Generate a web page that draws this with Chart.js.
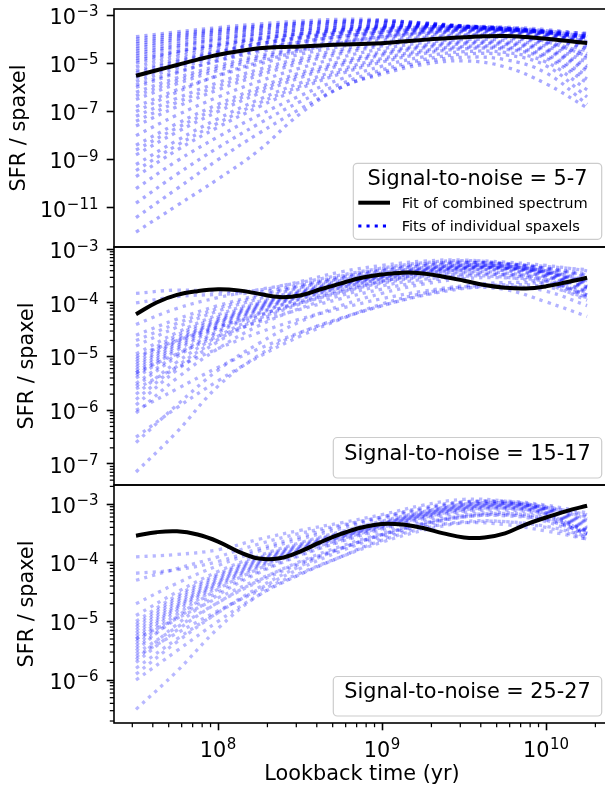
<!DOCTYPE html>
<html><head><meta charset="utf-8">
<script src="https://cdn.jsdelivr.net/npm/chart.js@4.4.1/dist/chart.umd.min.js"></script>
<style>
html,body{margin:0;padding:0;background:#fff;overflow:hidden;width:605px;height:796px;}
#wrap{position:relative;width:620px;height:796px;}
canvas{position:absolute;left:0;top:0;}
</style></head><body>
<div id="wrap">
<canvas id="c1" width="620" height="796"></canvas>
<canvas id="c2" width="620" height="796"></canvas>
<canvas id="c3" width="620" height="796"></canvas>
</div>
<script>
// ---------------- DATA (SFR stored as log10) ----------------
const spaxelTimes = [3.16e7, 5.62e7, 1.0e8, 1.78e8, 3.16e8, 5.62e8, 1.0e9, 1.78e9, 3.16e9, 5.62e9, 1.0e10, 1.78e10];
const fitTimes = [3.16e7, 4.22e7, 5.62e7, 7.5e7, 1.0e8, 1.33e8, 1.78e8, 2.37e8, 3.16e8, 4.22e8, 5.62e8, 7.5e8,
                  1.0e9, 1.33e9, 1.78e9, 2.37e9, 3.16e9, 4.22e9, 5.62e9, 7.5e9, 1.0e10, 1.33e10, 1.78e10];

const fitSN5to7Log10 = [-5.52, -5.29, -5.07, -4.85, -4.65, -4.50, -4.38, -4.33, -4.30, -4.26, -4.22, -4.20,
                        -4.17, -4.10, -4.03, -3.97, -3.92, -3.88, -3.87, -3.91, -3.98, -4.07, -4.16];
const fitSN15to17Log10 = [-4.21, -3.99, -3.85, -3.78, -3.745, -3.765, -3.83, -3.89, -3.86, -3.745, -3.635, -3.53,
                          -3.47, -3.435, -3.45, -3.51, -3.585, -3.665, -3.715, -3.73, -3.69, -3.615, -3.53];
const fitSN25to27Log10 = [-3.54, -3.48, -3.465, -3.52, -3.64, -3.81, -3.93, -3.925, -3.81, -3.65, -3.51, -3.40,
                          -3.34, -3.35, -3.41, -3.50, -3.57, -3.57, -3.50, -3.35, -3.23, -3.12, -3.03];

const spaxelsSN5to7Log10 = [
 [-3.90,-3.70,-3.52,-3.37,-3.25,-3.18,-3.20,-3.35,-3.50,-3.62,-3.68,-3.75],
 [-4.00,-3.78,-3.60,-3.45,-3.33,-3.25,-3.24,-3.32,-3.45,-3.57,-3.66,-3.78],
 [-4.10,-3.85,-3.65,-3.48,-3.35,-3.27,-3.25,-3.33,-3.48,-3.62,-3.72,-3.85],
 [-4.20,-3.92,-3.70,-3.53,-3.40,-3.32,-3.30,-3.36,-3.46,-3.58,-3.70,-3.88],
 [-4.30,-4.00,-3.78,-3.60,-3.46,-3.37,-3.33,-3.37,-3.47,-3.60,-3.75,-3.95],
 [-4.40,-4.08,-3.84,-3.65,-3.51,-3.42,-3.38,-3.40,-3.47,-3.58,-3.72,-3.92],
 [-4.50,-4.20,-3.95,-3.75,-3.60,-3.50,-3.44,-3.43,-3.48,-3.58,-3.72,-3.90],
 [-4.60,-4.28,-4.00,-3.78,-3.62,-3.51,-3.45,-3.44,-3.48,-3.56,-3.68,-3.88],
 [-4.70,-4.35,-4.07,-3.85,-3.68,-3.56,-3.48,-3.45,-3.47,-3.55,-3.70,-3.95],
 [-4.80,-4.50,-4.22,-3.98,-3.78,-3.62,-3.52,-3.47,-3.46,-3.50,-3.60,-3.80],
 [-4.90,-4.52,-4.20,-3.95,-3.76,-3.62,-3.53,-3.49,-3.49,-3.54,-3.66,-3.90],
 [-5.00,-4.60,-4.27,-4.00,-3.80,-3.65,-3.55,-3.50,-3.50,-3.56,-3.70,-3.95],
 [-5.15,-4.72,-4.36,-4.08,-3.86,-3.70,-3.59,-3.53,-3.52,-3.57,-3.72,-4.00],
 [-5.30,-4.85,-4.48,-4.18,-3.95,-3.78,-3.65,-3.57,-3.55,-3.60,-3.75,-4.05],
 [-5.40,-4.92,-4.52,-4.20,-3.96,-3.78,-3.65,-3.57,-3.54,-3.59,-3.75,-4.08],
 [-5.50,-5.00,-4.55,-4.20,-3.92,-3.72,-3.58,-3.50,-3.47,-3.52,-3.65,-3.90],
 [-5.60,-5.10,-4.68,-4.33,-4.07,-3.87,-3.72,-3.62,-3.58,-3.63,-3.80,-4.15],
 [-5.75,-5.20,-4.75,-4.40,-4.12,-3.90,-3.74,-3.63,-3.58,-3.62,-3.80,-4.18],
 [-5.90,-5.35,-4.90,-4.52,-4.22,-3.98,-3.80,-3.68,-3.62,-3.66,-3.85,-4.25],
 [-6.00,-5.40,-4.88,-4.45,-4.12,-3.88,-3.70,-3.58,-3.52,-3.55,-3.72,-4.10],
 [-6.20,-5.60,-5.10,-4.68,-4.35,-4.08,-3.87,-3.72,-3.64,-3.68,-3.88,-4.35],
 [-6.35,-5.72,-5.20,-4.76,-4.41,-4.13,-3.91,-3.75,-3.67,-3.70,-3.92,-4.40],
 [-6.50,-5.85,-5.30,-4.85,-4.48,-4.18,-3.95,-3.78,-3.70,-3.75,-3.98,-4.50],
 [-6.80,-6.10,-5.52,-5.03,-4.63,-4.30,-4.05,-3.86,-3.77,-3.82,-4.10,-4.70],
 [-7.00,-6.20,-5.50,-4.95,-4.50,-4.15,-3.90,-3.72,-3.62,-3.63,-3.78,-4.20],
 [-7.20,-6.45,-5.80,-5.25,-4.80,-4.43,-4.14,-3.93,-3.82,-3.85,-4.10,-4.60],
 [-7.40,-6.62,-5.95,-5.38,-4.90,-4.52,-4.21,-3.99,-3.87,-3.90,-4.15,-4.70],
 [-7.60,-6.80,-6.10,-5.50,-5.00,-4.60,-4.28,-4.05,-3.93,-3.95,-4.20,-4.80],
 [-8.00,-7.15,-6.40,-5.75,-5.20,-4.75,-4.40,-4.15,-4.02,-4.05,-4.30,-4.95],
 [-8.40,-7.50,-6.70,-6.00,-5.40,-4.92,-4.53,-4.25,-4.10,-4.12,-4.40,-5.10],
 [-8.60,-7.68,-6.85,-6.12,-5.50,-5.00,-4.60,-4.30,-4.15,-4.17,-4.45,-5.20],
 [-8.80,-7.85,-7.00,-6.25,-5.60,-5.08,-4.66,-4.36,-4.20,-4.22,-4.50,-5.30],
 [-9.20,-8.20,-7.30,-6.50,-5.82,-5.25,-4.80,-4.47,-4.30,-4.32,-4.65,-5.50],
 [-9.45,-8.40,-7.48,-6.65,-5.95,-5.35,-4.88,-4.53,-4.35,-4.37,-4.72,-5.65],
 [-9.70,-8.60,-7.65,-6.80,-6.05,-5.43,-4.95,-4.60,-4.40,-4.42,-4.80,-5.80],
 [-10.2,-9.05,-8.05,-7.15,-6.35,-5.65,-5.12,-4.73,-4.52,-4.55,-4.95,-6.10],
 [-10.8,-9.60,-8.50,-7.50,-6.60,-5.85,-5.28,-4.85,-4.62,-4.65,-5.10,-6.40],
 [-11.4,-10.2,-9.00,-7.90,-6.90,-6.00,-5.38,-4.95,-4.75,-4.85,-5.40,-6.70],
 [-12.0,-10.9,-9.80,-8.60,-7.10,-6.00,-5.45,-5.05,-4.90,-5.15,-5.85,-6.85]
];
const spaxelsSN15to17Log10 = [
 [-3.82,-3.76,-3.78,-3.76,-3.60,-3.42,-3.30,-3.22,-3.20,-3.26,-3.32,-3.38],
 [-4.00,-3.88,-3.84,-3.80,-3.66,-3.50,-3.36,-3.27,-3.24,-3.28,-3.36,-3.45],
 [-4.40,-4.10,-3.90,-3.75,-3.62,-3.48,-3.35,-3.25,-3.21,-3.24,-3.30,-3.40],
 [-4.60,-4.30,-4.05,-3.85,-3.68,-3.52,-3.38,-3.28,-3.24,-3.27,-3.35,-3.48],
 [-4.70,-4.38,-4.10,-3.88,-3.70,-3.54,-3.40,-3.30,-3.25,-3.27,-3.36,-3.50],
 [-4.80,-4.45,-4.15,-3.92,-3.72,-3.55,-3.41,-3.31,-3.26,-3.28,-3.37,-3.52],
 [-4.95,-4.55,-4.22,-3.97,-3.76,-3.58,-3.44,-3.34,-3.29,-3.31,-3.40,-3.58],
 [-5.00,-4.70,-4.45,-4.22,-4.00,-3.80,-3.60,-3.45,-3.36,-3.35,-3.42,-3.60],
 [-5.05,-4.60,-4.26,-4.00,-3.78,-3.60,-3.45,-3.35,-3.30,-3.31,-3.41,-3.60],
 [-5.10,-4.65,-4.30,-4.02,-3.80,-3.62,-3.47,-3.36,-3.30,-3.32,-3.42,-3.62],
 [-5.15,-4.70,-4.33,-4.04,-3.81,-3.63,-3.48,-3.37,-3.31,-3.33,-3.43,-3.64],
 [-5.20,-4.72,-4.35,-4.06,-3.83,-3.64,-3.49,-3.38,-3.32,-3.33,-3.43,-3.65],
 [-5.25,-4.76,-4.37,-4.08,-3.84,-3.65,-3.50,-3.39,-3.33,-3.34,-3.44,-3.68],
 [-5.30,-4.80,-4.40,-4.10,-3.86,-3.66,-3.51,-3.40,-3.34,-3.35,-3.45,-3.70],
 [-5.30,-4.95,-4.62,-4.35,-4.12,-3.92,-3.74,-3.60,-3.50,-3.47,-3.52,-3.70],
 [-5.35,-4.84,-4.44,-4.12,-3.88,-3.68,-3.52,-3.41,-3.35,-3.36,-3.47,-3.72],
 [-5.40,-4.88,-4.47,-4.14,-3.89,-3.69,-3.53,-3.42,-3.36,-3.37,-3.48,-3.75],
 [-5.50,-4.96,-4.52,-4.18,-3.92,-3.71,-3.55,-3.44,-3.38,-3.39,-3.50,-3.78],
 [-5.55,-5.00,-4.55,-4.20,-3.93,-3.72,-3.56,-3.45,-3.39,-3.40,-3.52,-3.80],
 [-5.60,-5.20,-4.85,-4.55,-4.30,-4.10,-3.92,-3.78,-3.68,-3.62,-3.65,-3.80],
 [-5.70,-5.10,-4.62,-4.25,-3.97,-3.75,-3.59,-3.48,-3.42,-3.44,-3.56,-3.85],
 [-5.80,-5.18,-4.68,-4.29,-4.00,-3.78,-3.61,-3.50,-3.44,-3.46,-3.58,-3.88],
 [-5.90,-5.25,-4.72,-4.32,-4.02,-3.80,-3.63,-3.52,-3.46,-3.48,-3.60,-3.90],
 [-6.00,-5.60,-5.20,-4.85,-4.55,-4.28,-4.05,-3.86,-3.73,-3.66,-3.70,-3.90],
 [-6.05,-5.40,-4.85,-4.42,-4.10,-3.86,-3.68,-3.56,-3.50,-3.52,-3.65,-3.95],
 [-6.50,-5.95,-5.45,-5.00,-4.62,-4.30,-4.02,-3.82,-3.70,-3.68,-3.78,-4.05],
 [-6.60,-5.90,-5.25,-4.75,-4.35,-4.05,-3.82,-3.65,-3.55,-3.53,-3.60,-3.85],
 [-7.15,-6.40,-5.55,-4.97,-4.56,-4.29,-4.05,-3.85,-3.72,-3.75,-3.98,-4.25]
];
const spaxelsSN25to27Log10 = [
 [-3.90,-3.86,-3.78,-3.60,-3.45,-3.32,-3.18,-3.02,-2.92,-2.95,-3.05,-3.18],
 [-4.18,-4.12,-3.98,-3.76,-3.56,-3.38,-3.22,-3.06,-2.96,-2.97,-3.08,-3.22],
 [-4.30,-4.10,-3.90,-3.68,-3.50,-3.36,-3.22,-3.08,-2.97,-2.95,-3.02,-3.15],
 [-4.70,-4.35,-4.05,-3.80,-3.60,-3.42,-3.25,-3.10,-2.98,-2.96,-3.04,-3.20],
 [-4.90,-4.50,-4.15,-3.88,-3.66,-3.47,-3.29,-3.13,-3.00,-2.98,-3.06,-3.25],
 [-5.00,-4.56,-4.19,-3.91,-3.68,-3.49,-3.31,-3.14,-3.01,-2.99,-3.07,-3.28],
 [-5.05,-4.60,-4.22,-3.93,-3.70,-3.50,-3.32,-3.15,-3.02,-2.99,-3.08,-3.30],
 [-5.10,-4.64,-4.25,-3.95,-3.72,-3.52,-3.33,-3.16,-3.03,-3.00,-3.09,-3.32],
 [-5.15,-4.68,-4.28,-3.97,-3.73,-3.53,-3.34,-3.17,-3.04,-3.01,-3.10,-3.35],
 [-5.20,-4.72,-4.31,-3.99,-3.75,-3.54,-3.35,-3.18,-3.05,-3.02,-3.11,-3.38],
 [-5.25,-4.75,-4.33,-4.01,-3.76,-3.55,-3.36,-3.19,-3.06,-3.03,-3.12,-3.40],
 [-5.30,-4.78,-4.36,-4.03,-3.78,-3.56,-3.37,-3.20,-3.07,-3.04,-3.14,-3.42],
 [-5.30,-4.95,-4.60,-4.28,-4.00,-3.75,-3.52,-3.33,-3.20,-3.16,-3.24,-3.45],
 [-5.35,-4.82,-4.38,-4.05,-3.79,-3.57,-3.38,-3.21,-3.08,-3.05,-3.15,-3.45],
 [-5.40,-4.88,-4.42,-4.08,-3.81,-3.59,-3.39,-3.22,-3.09,-3.06,-3.16,-3.47],
 [-5.45,-4.95,-4.50,-4.15,-3.87,-3.63,-3.42,-3.25,-3.12,-3.08,-3.18,-3.48],
 [-5.50,-4.92,-4.45,-4.10,-3.83,-3.60,-3.40,-3.23,-3.10,-3.07,-3.17,-3.50],
 [-5.55,-5.10,-4.68,-4.32,-4.02,-3.76,-3.53,-3.35,-3.22,-3.19,-3.27,-3.50],
 [-5.60,-5.20,-4.82,-4.48,-4.18,-3.90,-3.65,-3.45,-3.32,-3.30,-3.38,-3.55],
 [-5.65,-5.05,-4.55,-4.17,-3.88,-3.64,-3.44,-3.27,-3.14,-3.10,-3.20,-3.55],
 [-5.70,-5.15,-4.68,-4.30,-3.98,-3.72,-3.50,-3.32,-3.19,-3.15,-3.24,-3.52],
 [-5.80,-5.30,-4.85,-4.45,-4.10,-3.80,-3.55,-3.36,-3.22,-3.18,-3.28,-3.50],
 [-5.90,-5.35,-4.85,-4.42,-4.06,-3.76,-3.52,-3.34,-3.22,-3.20,-3.30,-3.58],
 [-6.00,-5.50,-5.00,-4.55,-4.20,-3.90,-3.62,-3.42,-3.30,-3.30,-3.40,-3.60],
 [-6.50,-5.85,-5.12,-4.55,-4.20,-3.90,-3.60,-3.40,-3.32,-3.35,-3.46,-3.60]
];

const panelTitles = ['Signal-to-noise = 5-7', 'Signal-to-noise = 15-17', 'Signal-to-noise = 25-27'];
const legendLabels = ['Fit of combined spectrum', 'Fits of individual spaxels'];
const yTicksSN5to7 = [1e-11, 1e-9, 1e-7, 1e-5, 1e-3];
const yTicksSN15to17 = [1e-7, 1e-6, 1e-5, 1e-4, 1e-3];
const yTicksSN25to27 = [1e-6, 1e-5, 1e-4, 1e-3];
const xTicks = [1e8, 1e9, 1e10];
const xTitle = 'Lookback time (yr)';
const yTitle = 'SFR / spaxel';

// ---------------- RENDERING ----------------
const FONT = "'DejaVu Sans', sans-serif";
Chart.defaults.font.family = FONT;
Chart.defaults.color = '#000';

function minorTicks(lo, hi) {
  const out = [];
  for (let e = Math.floor(Math.log10(lo)); e <= Math.ceil(Math.log10(hi)); e++)
    for (let m = 2; m <= 9; m++) { const v = m * Math.pow(10, e); if (v >= lo && v <= hi) out.push(v); }
  return out;
}
// mathtext-like "10^n" label: base at 20.8px, exponent at 15px raised
function drawPow10(ctx, v, x, baseline, align) {
  const e = Math.round(Math.log10(v));
  const base = '10', sup = (e < 0 ? '\u2212' : '') + Math.abs(e);
  ctx.font = '20.8px ' + FONT; const wb = ctx.measureText(base).width;
  ctx.font = '15px ' + FONT; const ws = ctx.measureText(sup).width;
  const total = wb + 0.5 + ws;
  const x0 = align === 'right' ? x - total : x - total / 2;
  ctx.textAlign = 'left'; ctx.textBaseline = 'alphabetic'; ctx.fillStyle = '#000';
  ctx.font = '20.8px ' + FONT; ctx.fillText(base, x0, baseline);
  ctx.font = '15px ' + FONT; ctx.fillText(sup, x0 + wb + 0.5, baseline - 7.5);
}

const X_MIN = 2.32e7, X_MAX = 2.455e10;

function decorPlugin(cfg) {
  return {
    id: 'decor',
    afterDraw(chart) {
      const ctx = chart.ctx, ca = chart.chartArea, ys = chart.scales.y, xs = chart.scales.x;
      ctx.save();
      ctx.strokeStyle = '#000';
      ctx.lineWidth = 1.25;
      if (cfg.minorY) {
        for (const v of minorTicks(ys.min, ys.max)) {
          const p = ys.getPixelForValue(v);
          ctx.beginPath(); ctx.moveTo(ca.left - 4.2, p); ctx.lineTo(ca.left, p); ctx.stroke();
        }
      }
      if (cfg.minorX) {
        for (const v of minorTicks(xs.min, xs.max)) {
          const p = xs.getPixelForValue(v);
          ctx.beginPath(); ctx.moveTo(p, ca.bottom); ctx.lineTo(p, ca.bottom + 4.2); ctx.stroke();
        }
      }
      for (const t of ys.ticks) drawPow10(ctx, t.value, ca.left - 15.5, ys.getPixelForValue(t.value) + 8.7, 'right');
      if (cfg.minorX) {
        for (const t of xs.ticks) drawPow10(ctx, t.value, xs.getPixelForValue(t.value), ca.bottom + 33.5, 'center');
      }
      ctx.strokeStyle = '#000';
      ctx.lineWidth = 1.6;
      ctx.strokeRect(ca.left, ca.top, ca.right - ca.left, ca.bottom - ca.top);
      const L = cfg.legend;
      const x = ca.right - 8.3 - L.w, y = ca.bottom - L.gap - L.h;
      ctx.beginPath();
      ctx.roundRect(x, y, L.w, L.h, 4);
      ctx.fillStyle = 'rgba(255,255,255,0.8)'; ctx.fill();
      ctx.strokeStyle = '#cccccc'; ctx.lineWidth = 1.2; ctx.stroke();
      ctx.fillStyle = '#000';
      ctx.font = '20.8px ' + FONT;
      ctx.textAlign = 'center'; ctx.textBaseline = 'alphabetic';
      ctx.fillText(L.title, x + L.w / 2, y + L.titleBase);
      if (L.entries) {
        ctx.textAlign = 'left';
        ctx.font = '14.6px ' + FONT;
        ctx.strokeStyle = '#000'; ctx.lineWidth = 4; ctx.setLineDash([]);
        ctx.beginPath(); ctx.moveTo(x + 5, y + 39.4); ctx.lineTo(x + 36.7, y + 39.4); ctx.stroke();
        ctx.fillText(legendLabels[0], x + 48.4, y + 45);
        ctx.strokeStyle = '#0000ff'; ctx.lineWidth = 3.1; ctx.setLineDash([3.1, 5.1]);
        ctx.beginPath(); ctx.moveTo(x + 5, y + 62.7); ctx.lineTo(x + 36.7, y + 62.7); ctx.stroke();
        ctx.setLineDash([]);
        ctx.fillText(legendLabels[1], x + 48.4, y + 67.4);
      }
      ctx.restore();
    }
  };
}

function makePanel(id, p) {
  const datasets = [];
  datasets.push({
    data: fitTimes.map((t, i) => ({x: t, y: Math.pow(10, p.fit[i])})),
    borderColor: '#000', borderWidth: 4, pointRadius: 0, tension: 0.4, fill: false
  });
  p.spaxels.forEach(curve => datasets.push({
    data: spaxelTimes.map((t, i) => ({x: t, y: Math.pow(10, curve[i])})),
    borderColor: p.dotColor, borderWidth: 3.3, borderDash: [3.3, 5.0], pointRadius: 0, tension: 0.4, fill: false
  }));
  new Chart(document.getElementById(id), {
    type: 'line',
    data: {datasets},
    options: {
      responsive: false, animation: false, events: [],
      layout: {padding: {top: p.top, bottom: p.bottom, left: 0, right: 10}},
      plugins: {legend: {display: false}, tooltip: {enabled: false}},
      scales: {
        x: {
          type: 'logarithmic', min: X_MIN, max: X_MAX, bounds: 'data', display: p.showX,
          afterBuildTicks: s => { s.ticks = xTicks.map(v => ({value: v})); },
          afterFit: s => { if (p.showX) { s.height = 73; } s.paddingLeft = 0; s.paddingRight = 0; },
          ticks: {display: false},
          grid: {drawOnChartArea: false, drawTicks: true, tickLength: 7.3, tickWidth: 1.6, tickColor: '#000'},
          border: {display: false},
          title: {display: true, text: xTitle, font: {size: 20.8}, color: '#000', padding: {top: 0, bottom: 9}}
        },
        y: {
          type: 'logarithmic', min: p.ymin, max: p.ymax, bounds: 'data',
          afterBuildTicks: s => { s.ticks = p.yTicks.map(v => ({value: v})); },
          afterFit: s => { s.width = 114; s.paddingTop = 0; s.paddingBottom = 0; },
          ticks: {display: false},
          grid: {drawOnChartArea: false, drawTicks: true, tickLength: 7.3, tickWidth: 1.6, tickColor: '#000'},
          border: {display: false},
          title: {display: true, text: yTitle, font: {size: 20.8}, color: '#000', padding: {top: p.titlePad, bottom: 0}}
        }
      }
    },
    plugins: [decorPlugin(p.decor)]
  });
}

makePanel('c1', {
  fit: fitSN5to7Log10, spaxels: spaxelsSN5to7Log10, dotColor: 'rgba(0,0,255,0.34)',
  top: 9, bottom: 796 - 247, showX: false, ymin: 2.4e-13, ymax: 1.78e-3, yTicks: yTicksSN5to7, titlePad: 7,
  decor: {minorY: false, minorX: false,
          legend: {title: panelTitles[0], w: 248.4, h: 76, gap: 7.7, titleBase: 21.7, entries: true}}
});
makePanel('c2', {
  fit: fitSN15to17Log10, spaxels: spaxelsSN15to17Log10, dotColor: 'rgba(0,0,255,0.3)',
  top: 247, bottom: 796 - 485, showX: false, ymin: 4.06e-8, ymax: 1.104e-3, yTicks: yTicksSN15to17, titlePad: 15,
  decor: {minorY: true, minorX: false,
          legend: {title: panelTitles[1], w: 268.4, h: 40.5, gap: 7, titleBase: 22.7, entries: false}}
});
makePanel('c3', {
  fit: fitSN25to27Log10, spaxels: spaxelsSN25to27Log10, dotColor: 'rgba(0,0,255,0.28)',
  top: 485, bottom: 0, showX: true, ymin: 1.85e-7, ymax: 2.11e-3, yTicks: yTicksSN25to27, titlePad: 15,
  decor: {minorY: true, minorX: true,
          legend: {title: panelTitles[2], w: 268.4, h: 39.5, gap: 7, titleBase: 21.9, entries: false}}
});
</script>
</body></html>
